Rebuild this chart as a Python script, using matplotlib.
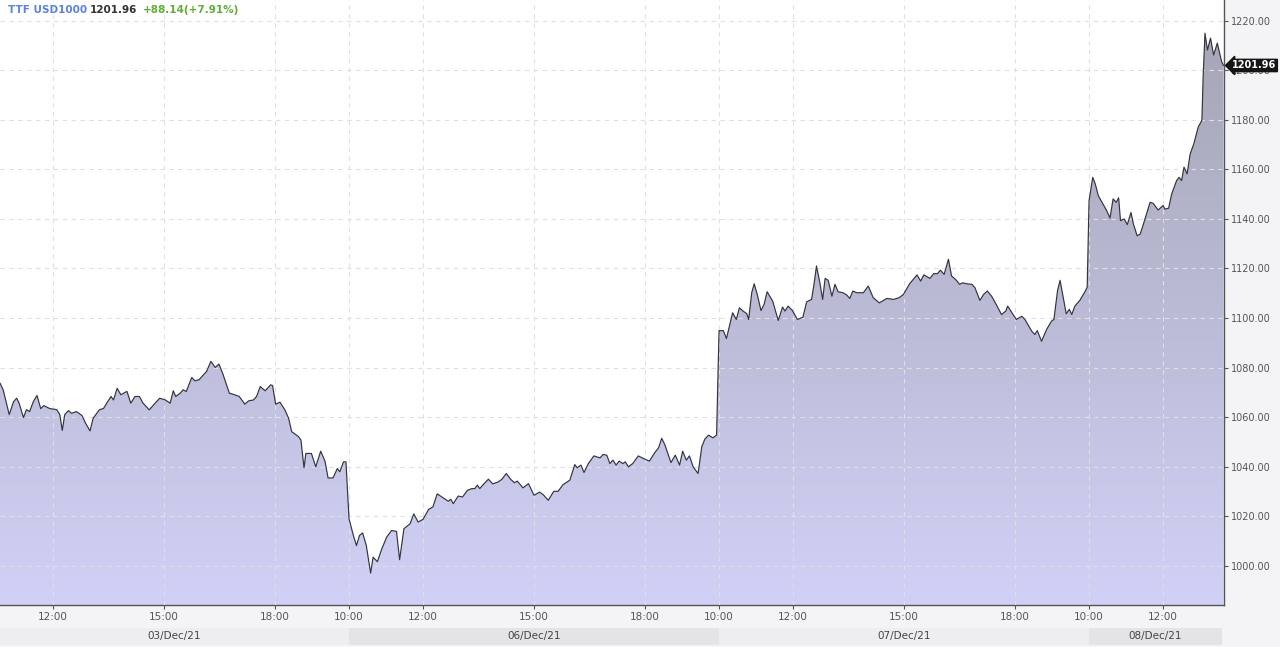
import numpy as np
import matplotlib
matplotlib.use("Agg")
import matplotlib.pyplot as plt
from matplotlib.colors import LinearSegmentedColormap
from matplotlib.patches import Polygon
from matplotlib.transforms import blended_transform_factory

# trading sessions shown (10:00 - 20:00 each)
days = ["03/Dec/21", "06/Dec/21", "07/Dec/21", "08/Dec/21"]

dec03_times = ["10:34", "10:39", "10:49", "10:56", "11:01", "11:05", "11:12", "11:17", "11:22", "11:28",
               "11:34", "11:40", "11:45", "11:55", "12:06", "12:11", "12:15", "12:19", "12:25", "12:30",
               "12:38", "12:47", "12:53", "13:00", "13:05", "13:15", "13:22", "13:26", "13:34", "13:38",
               "13:44", "13:50", "13:57", "14:00", "14:06", "14:13", "14:20", "14:26", "14:36", "14:43",
               "14:53", "15:02", "15:10", "15:15", "15:19", "15:26", "15:31", "15:36", "15:45", "15:50",
               "15:57", "16:04", "16:09", "16:16", "16:23", "16:29", "16:35", "16:46", "16:52", "17:02",
               "17:11", "17:17", "17:25", "17:30", "17:36", "17:44", "17:53", "17:56", "18:01", "18:08",
               "18:16", "18:22", "18:27", "18:38", "18:42", "18:47", "18:50", "18:59", "19:06", "19:14",
               "19:21", "19:26", "19:34", "19:41", "19:45", "19:51", "19:55"]
dec03_prices = [1073.7, 1071.1, 1061.0, 1066.2, 1067.6, 1065.6, 1059.8, 1063.0, 1062.2, 1066.2,
                1068.7, 1063.4, 1064.6, 1063.4, 1063.0, 1061.0, 1054.6, 1061.0, 1062.6, 1061.5,
                1062.2, 1060.6, 1057.4, 1054.4, 1059.5, 1062.9, 1063.5, 1065.2, 1068.3, 1066.9,
                1071.6, 1069.0, 1070.0, 1070.3, 1065.6, 1068.3, 1068.3, 1065.6, 1062.9, 1064.9,
                1067.6, 1066.9, 1065.6, 1070.6, 1068.3, 1069.6, 1071.0, 1070.3, 1076.0, 1074.6,
                1075.1, 1077.1, 1078.4, 1082.5, 1080.0, 1081.4, 1077.7, 1069.6, 1069.2, 1068.3,
                1065.2, 1066.5, 1066.9, 1068.3, 1072.3, 1070.6, 1073.0, 1072.7, 1065.2, 1066.0,
                1062.9, 1059.5, 1054.1, 1052.1, 1050.7, 1039.5, 1045.3, 1045.3, 1039.9, 1046.2,
                1042.2, 1035.4, 1035.4, 1039.2, 1037.9, 1041.9, 1041.9]

dec06_times = ["10:00", "10:07", "10:12", "10:17", "10:22", "10:28", "10:35", "10:39", "10:46", "10:53",
               "11:01", "11:09", "11:17", "11:22", "11:29", "11:39", "11:45", "11:52", "12:00", "12:09",
               "12:16", "12:23", "12:33", "12:41", "12:45", "12:49", "12:57", "13:04", "13:12", "13:19",
               "13:24", "13:28", "13:32", "13:39", "13:46", "13:53", "14:02", "14:08", "14:15", "14:22",
               "14:28", "14:33", "14:42", "14:51", "15:00", "15:09", "15:15", "15:23", "15:32", "15:39",
               "15:47", "15:58", "16:06", "16:10", "16:16", "16:21", "16:28", "16:37", "16:47", "16:52",
               "16:58", "17:03", "17:08", "17:13", "17:18", "17:24", "17:28", "17:33", "17:40", "17:49",
               "17:58", "18:07", "18:16", "18:22", "18:27", "18:32", "18:42", "18:49", "18:56", "19:01",
               "19:07", "19:12", "19:18", "19:26", "19:32", "19:37", "19:43", "19:50", "19:56"]
dec06_prices = [1018.9, 1012.2, 1008.1, 1012.2, 1013.2, 1008.1, 997.0, 1003.4, 1001.6, 1006.7,
                1011.5, 1014.2, 1013.8, 1002.4, 1014.9, 1016.9, 1020.9, 1017.6, 1018.7, 1022.7,
                1023.7, 1029.0, 1027.3, 1026.0, 1026.8, 1025.0, 1028.1, 1027.7, 1030.4, 1031.1,
                1031.1, 1032.5, 1031.1, 1033.1, 1034.9, 1033.0, 1033.8, 1034.9, 1037.2, 1034.9,
                1033.5, 1034.1, 1031.4, 1033.1, 1028.4, 1029.7, 1028.6, 1026.4, 1030.0, 1030.0,
                1032.7, 1034.5, 1040.8, 1039.5, 1040.6, 1037.6, 1041.2, 1044.3, 1043.5, 1044.9,
                1044.6, 1041.2, 1042.6, 1040.6, 1042.2, 1041.2, 1041.9, 1039.9, 1041.2, 1044.3,
                1043.2, 1042.2, 1045.7, 1047.6, 1051.4, 1048.9, 1041.6, 1044.6, 1040.6, 1046.2,
                1042.6, 1044.3, 1039.9, 1037.2, 1048.0, 1051.1, 1052.7, 1051.6, 1052.7]

dec07_times = ["10:00", "10:07", "10:12", "10:18", "10:22", "10:28", "10:33", "10:39", "10:45", "10:48",
               "10:53", "10:57", "11:02", "11:08", "11:13", "11:18", "11:27", "11:36", "11:43", "11:47",
               "11:52", "11:59", "12:07", "12:16", "12:22", "12:30", "12:34", "12:38", "12:43", "12:48",
               "12:52", "12:57", "13:03", "13:08", "13:13", "13:21", "13:27", "13:32", "13:37", "13:43",
               "13:54", "14:02", "14:10", "14:20", "14:32", "14:43", "14:52", "14:59", "15:09", "15:21",
               "15:27", "15:32", "15:42", "15:48", "15:54", "15:59", "16:05", "16:12", "16:17", "16:25",
               "16:30", "16:35", "16:42", "16:50", "16:55", "17:03", "17:09", "17:15", "17:22", "17:30",
               "17:38", "17:45", "17:48", "17:55", "18:02", "18:11", "18:16", "18:27", "18:32", "18:36",
               "18:43", "18:51", "18:59", "19:03", "19:09", "19:13", "19:18", "19:23", "19:28", "19:32",
               "19:37", "19:45", "19:54", "19:57"]
dec07_prices = [1094.9, 1094.9, 1091.7, 1098.0, 1102.1, 1099.4, 1104.1, 1102.8, 1101.7, 1099.4,
                1110.2, 1113.8, 1109.5, 1103.0, 1105.5, 1110.6, 1106.8, 1099.0, 1104.4, 1102.8,
                1104.8, 1103.0, 1099.4, 1100.3, 1106.5, 1107.5, 1113.6, 1121.0, 1114.9, 1107.5,
                1116.0, 1115.2, 1108.8, 1113.6, 1110.6, 1110.2, 1109.3, 1107.9, 1110.9, 1110.2,
                1110.2, 1112.9, 1108.2, 1106.1, 1107.9, 1107.5, 1108.2, 1109.5, 1113.8, 1117.4,
                1114.9, 1117.4, 1116.0, 1117.9, 1117.9, 1119.3, 1117.6, 1123.7, 1117.0, 1115.2,
                1113.6, 1114.2, 1113.8, 1113.6, 1112.2, 1107.1, 1109.5, 1110.9, 1108.8, 1105.2,
                1101.4, 1102.8, 1104.8, 1102.1, 1099.4, 1100.7, 1099.4, 1094.7, 1093.3, 1094.9,
                1090.6, 1095.3, 1098.7, 1099.4, 1111.2, 1115.2, 1108.4, 1101.7, 1103.5, 1101.4,
                1104.8, 1107.1, 1110.9, 1112.5]

dec08_times = ["10:00", "10:06", "10:10", "10:15", "10:21", "10:28", "10:34", "10:39", "10:44", "10:48",
               "10:51", "10:57", "11:02", "11:08", "11:12", "11:18", "11:23", "11:29", "11:39", "11:44",
               "11:52", "12:00", "12:03", "12:09", "12:14", "12:22", "12:26", "12:30", "12:34", "12:39",
               "12:44", "12:50", "12:57", "13:03", "13:05", "13:08", "13:12", "13:17", "13:22", "13:28",
               "13:35", "13:38"]
dec08_prices = [1147.4, 1156.8, 1154.2, 1149.4, 1146.7, 1143.6, 1140.4, 1148.1, 1146.7, 1148.5,
                1139.3, 1140.0, 1137.7, 1142.6, 1137.9, 1133.2, 1133.9, 1138.6, 1146.7, 1146.3,
                1143.6, 1145.4, 1144.0, 1144.3, 1150.1, 1155.5, 1156.8, 1155.5, 1160.9, 1158.2,
                1166.3, 1170.4, 1177.1, 1179.8, 1197.4, 1215.0, 1208.2, 1213.0, 1206.2, 1211.0,
                1203.5, 1201.96]

last_price = 1201.96
change = "+88.14(+7.91%)"
y_ticks = [1000, 1020, 1040, 1060, 1080, 1100, 1120, 1140, 1160, 1180, 1200, 1220]
tick_times = [["12:00", "15:00", "18:00"],
              ["10:00", "12:00", "15:00", "18:00"],
              ["10:00", "12:00", "15:00", "18:00"],
              ["10:00", "12:00"]]

SESSION_OPEN = 10
SESSION_LEN = 600  # minutes per session


def trading_minute(day_idx, hhmm):
    h, m = hhmm.split(":")
    return day_idx * SESSION_LEN + (int(h) - SESSION_OPEN) * 60 + int(m)


day_times = [dec03_times, dec06_times, dec07_times, dec08_times]
day_prices = [dec03_prices, dec06_prices, dec07_prices, dec08_prices]
x = np.array([trading_minute(i, t) for i, ts in enumerate(day_times) for t in ts], dtype=float)
y = np.array([p for ps in day_prices for p in ps])

W, H = 1280, 647
fig = plt.figure(figsize=(W / 100, H / 100), dpi=100, facecolor="#f4f4f6")
ax = fig.add_axes([0, 1 - 605 / H, 1224 / W, 605 / H])
ax.set_facecolor("white")

x0, x1 = 34, 34 + 1224 * 1.6216
y_bot, y_top = 984.1, 1228.4

# gradient area under the line
cmap = LinearSegmentedColormap.from_list("area", [(0.82, 0.82, 0.97), (0.64, 0.64, 0.70)])
grad = np.linspace(0, 1, 256).reshape(-1, 1)
im = ax.imshow(grad, cmap=cmap, aspect="auto", origin="lower",
               extent=[x0, x1, y_bot, y_top], zorder=1, interpolation="bilinear")
verts = [(x[0], y_bot - 10), (x0 - 5, y_bot - 10), (x0 - 5, y[0])] + list(zip(x, y)) + [(x[-1], y_bot - 10)]
clip = Polygon(verts, closed=True, facecolor="none", edgecolor="none")
ax.add_patch(clip)
im.set_clip_path(clip)

ax.plot(np.r_[x0 - 5, x], np.r_[y[0], y], color="#34343f", lw=0.85, zorder=4)

# grid
tick_x = [trading_minute(i, t) for i, ts in enumerate(tick_times) for t in ts]
tick_lbl = [t for ts in tick_times for t in ts]
for tx in tick_x:
    ax.axvline(tx, color="#e0e0e4", lw=0.8, ls=(0, (4, 4)), zorder=3)
for ty in y_ticks:
    ax.axhline(ty, color="#e0e0e4", lw=0.8, ls=(0, (4, 4)), zorder=3)

ax.set_xlim(x0, x1)
ax.set_ylim(y_bot, y_top)

ax.set_xticks(tick_x)
ax.set_xticklabels(tick_lbl)
ax.set_yticks(y_ticks)
ax.set_yticklabels([f"{v:.2f}" for v in y_ticks])
ax.yaxis.tick_right()
ax.tick_params(axis="y", direction="out", length=3, width=0.8, colors="#555555",
               labelsize=7, pad=2)
ax.tick_params(axis="x", direction="out", length=3, width=0.8, colors="#555555",
               labelsize=7.5, pad=2)
for side in ["top", "left"]:
    ax.spines[side].set_visible(False)
for side in ["right", "bottom"]:
    ax.spines[side].set_color("#555555")
    ax.spines[side].set_linewidth(1.0)

# last price tag (sits over the 1200.00 label, as in the source chart)
tr = blended_transform_factory(ax.transAxes, ax.transData)
ax.text(1.0065, last_price, f"{last_price:.2f}", transform=tr, ha="left", va="center",
        color="white", fontsize=7, fontweight="bold", clip_on=False, zorder=6,
        bbox=dict(boxstyle="larrow,pad=0.12", fc="#151515", ec="#151515"))

# date band row
band = fig.add_axes([0, 2 / H, 1222 / W, 17 / H])
band.set_xlim(x0, 34 + 1222 * 1.6216)
band.set_ylim(0, 1)
band.axis("off")
band_cols = ["#eeeef0", "#e4e4e6", "#eeeef0", "#e4e4e6"]
for i, d in enumerate(days):
    lo = max(i * SESSION_LEN, band.get_xlim()[0])
    hi = min((i + 1) * SESSION_LEN, band.get_xlim()[1])
    band.axvspan(lo, hi, color=band_cols[i], lw=0)
    band.text((lo + hi) / 2, 0.5, d, ha="center", va="center", fontsize=7.5, color="#444444")

# header
fig.text(8 / W, 1 - 10 / H, "TTF USD1000", color="#5b83d9", fontsize=7.5, fontweight="bold",
         ha="left", va="center")
fig.text(90 / W, 1 - 10 / H, f"{last_price:.2f}", color="#333333", fontsize=7.5,
         fontweight="bold", ha="left", va="center")
fig.text(143 / W, 1 - 10 / H, change, color="#62ad3a", fontsize=7.5, fontweight="bold",
         ha="left", va="center")

fig.savefig("out.png", dpi=100, facecolor=fig.get_facecolor())
